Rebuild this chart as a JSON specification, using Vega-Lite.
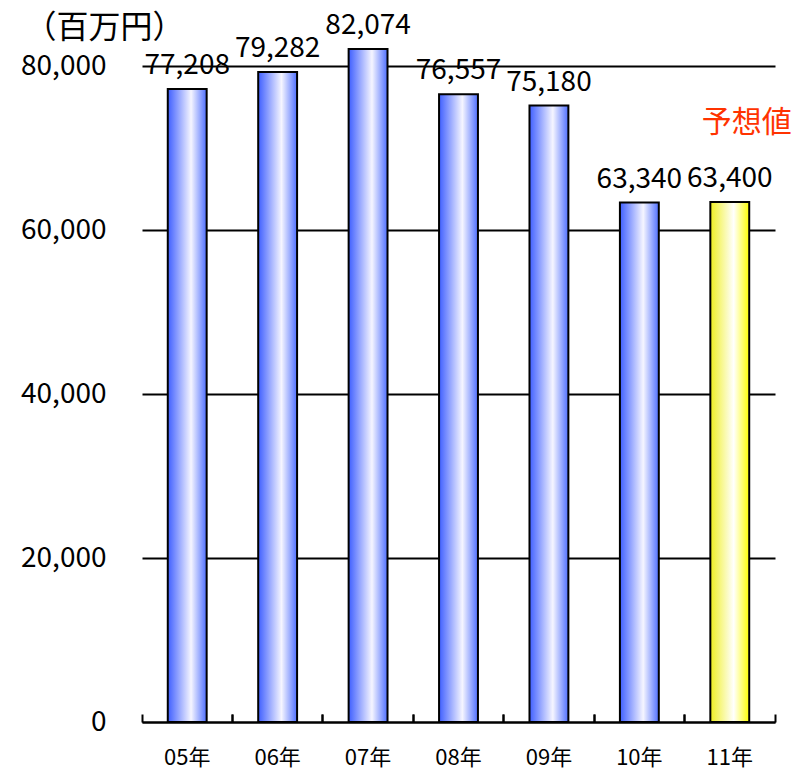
{
  "$schema": "https://vega.github.io/schema/vega-lite/v6.json",
  "width": 633,
  "height": 656,
  "autosize": {"type": "none"},
  "padding": {"left": 142, "top": 66, "right": 18, "bottom": 47},
  "background": "white",
  "config": {"view": {"stroke": null}, "font": "Noto Sans CJK JP"},
  "data": {
    "values": [
      {"year": "05年", "value": 77208, "kind": "actual"},
      {"year": "06年", "value": 79282, "kind": "actual"},
      {"year": "07年", "value": 82074, "kind": "actual"},
      {"year": "08年", "value": 76557, "kind": "actual"},
      {"year": "09年", "value": 75180, "kind": "actual"},
      {"year": "10年", "value": 63340, "kind": "actual"},
      {"year": "11年", "value": 63400, "kind": "forecast"}
    ]
  },
  "layer": [
    {
      "mark": {"type": "bar", "width": {"band": 0.43}, "stroke": "black", "strokeWidth": 2},
      "encoding": {
        "x": {
          "field": "year", "type": "ordinal", "sort": null,
          "scale": {"paddingInner": 0, "paddingOuter": 0},
          "axis": {
            "orient": "bottom", "title": null, "domain": true, "domainColor": "black", "domainWidth": 2,
            "ticks": false, "tickSize": 0, "grid": false, "labelAngle": 0, "labelFontSize": 22,
            "labelColor": "black", "labelBaseline": "middle", "labelPadding": 35
          }
        },
        "y": {
          "field": "value", "type": "quantitative",
          "scale": {"domain": [0, 80000], "nice": false, "zero": true},
          "axis": {
            "orient": "left", "values": [0, 20000, 40000, 60000, 80000], "format": ",",
            "labelExpr": "format(datum.value, ',')",
            "domain": false, "ticks": false, "tickSize": 0, "labelPadding": 36, "labelFontSize": 28,
            "labelColor": "black", "grid": true, "gridColor": "black", "gridWidth": 2, "gridOpacity": 1,
            "title": "（百万円）", "titleAngle": 0, "titleX": -38, "titleY": -39, "titleAlign": "center",
            "titleBaseline": "middle", "titleFontSize": 32, "titleFontWeight": "normal", "titleColor": "black"
          }
        },
        "fill": {
          "condition": {
            "test": "datum.kind === 'forecast'",
            "value": {"gradient": "linear", "x1": 0, "x2": 1, "y1": 0, "y2": 0,
              "stops": [{"offset": 0, "color": "#f0f020"}, {"offset": 0.6, "color": "#ffffff"}, {"offset": 1, "color": "#ffff00"}]}
          },
          "value": {"gradient": "linear", "x1": 0, "x2": 1, "y1": 0, "y2": 0,
            "stops": [{"offset": 0, "color": "#3f5fff"}, {"offset": 0.6, "color": "#f5f5ff"}, {"offset": 1, "color": "#4f6fff"}]}
        }
      }
    },
    {
      "mark": {"type": "text", "baseline": "alphabetic", "dy": -15, "fontSize": 28, "color": "black"},
      "encoding": {
        "x": {
          "field": "year", "type": "ordinal", "sort": null,
          "axis": {
            "orient": "bottom", "title": null, "labels": false, "domain": false, "grid": false,
            "ticks": true, "tickSize": -8, "tickWidth": 2, "tickColor": "black", "bandPosition": 0
          }
        },
        "y": {"field": "value", "type": "quantitative", "axis": {"format": ","}},
        "text": {"field": "value", "format": ","}
      }
    },
    {
      "transform": [{"filter": "datum.kind === 'forecast'"}],
      "mark": {"type": "text", "text": "予想値", "color": "#ff3300", "fontSize": 30, "dx": 17, "baseline": "middle"},
      "encoding": {
        "x": {
          "field": "year", "type": "ordinal", "sort": null,
          "axis": {
            "orient": "bottom", "title": null, "labels": false, "domain": false, "grid": false,
            "ticks": true, "tickSize": -8, "tickWidth": 2, "tickColor": "black", "bandPosition": 1
          }
        },
        "y": {"datum": 73000, "type": "quantitative", "axis": {"format": ","}}
      }
    }
  ],
  "resolve": {"axis": {"x": "independent"}}
}
